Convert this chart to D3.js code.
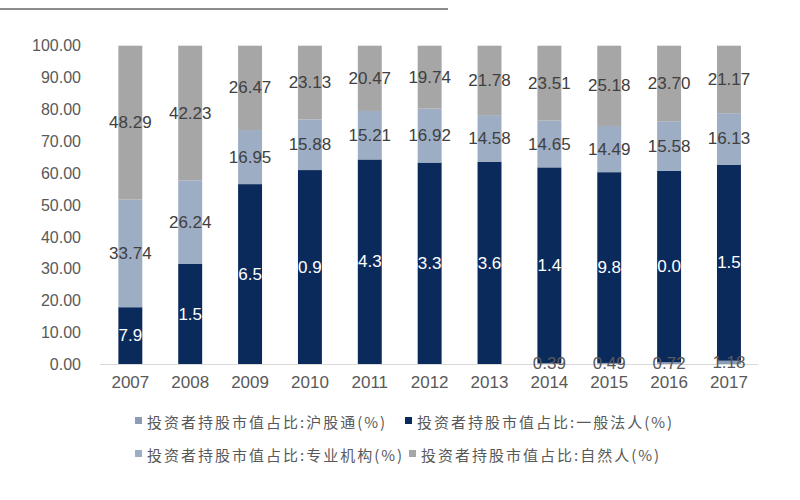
<!DOCTYPE html>
<html><head><meta charset="utf-8">
<script src="https://cdn.jsdelivr.net/npm/d3@7"></script>
<style>body{margin:0;background:#fff}svg{display:block}</style>
</head><body>
<svg id="c" width="800" height="500"></svg>
<script>
const years = ["2007","2008","2009","2010","2011","2012","2013","2014","2015","2016","2017"];
const hgt = [0,0,0,0,0,0,0,0.39,0.49,0.72,1.18];            // 沪股通
const legal = [17.97,31.53,56.58,60.99,64.32,63.34,63.64,61.45,59.84,60.00,61.52]; // 一般法人
const inst = [33.74,26.24,16.95,15.88,15.21,16.92,14.58,14.65,14.49,15.58,16.13];   // 专业机构
const natural = [48.29,42.23,26.47,23.13,20.47,19.74,21.78,23.51,25.18,23.70,21.17]; // 自然人
const seriesNames = ["投资者持股市值占比:沪股通(%)","投资者持股市值占比:一般法人(%)","投资者持股市值占比:专业机构(%)","投资者持股市值占比:自然人(%)"];
const yTicks = [0,10,20,30,40,50,60,70,80,90,100];

const colors = ["#8a9cb6","#0b2a5c","#9dadc4","#a6a6a6"];
const labelColors = ["#595959","#ffffff","#404040","#404040"];

const keys = ["hgt","legal","inst","natural"];
const rows = years.map((y,i)=>({year:y,hgt:hgt[i],legal:legal[i],inst:inst[i],natural:natural[i]}));
const stacked = d3.stack().keys(keys)(rows);

const svg = d3.select("#c");
const x = d3.scaleBand().domain(years).range([100.4,758.9]).paddingInner(0.6).paddingOuter(0.3);
const y = d3.scaleLinear().domain([0,100]).range([364.5,45.7]);

// top rule
svg.append("line").attr("x1",0).attr("x2",448).attr("y1",9).attr("y2",9)
  .attr("stroke","#8c8c8c").attr("stroke-width",2);

// bars
const g = svg.append("g");
stacked.forEach((s,si)=>{
  g.append("g").selectAll("rect").data(s).join("rect")
    .attr("x",d=>x(d.data.year)).attr("width",x.bandwidth())
    .attr("y",d=>y(d[1])).attr("height",d=>Math.max(0,y(d[0])-y(d[1])))
    .attr("fill",colors[si]);
});

// axis line
svg.append("line").attr("x1",100).attr("x2",758).attr("y1",364.5).attr("y2",364.5)
  .attr("stroke","#d9d9d9").attr("stroke-width",1.2);

// y axis
const yAxis = svg.append("g").attr("transform","translate(100,0)")
  .call(d3.axisLeft(y).tickValues(yTicks).tickFormat(d3.format(".2f")).tickSize(0).tickPadding(19));
yAxis.select(".domain").remove();
yAxis.selectAll("text").attr("font-family","Liberation Sans, Arial, sans-serif").attr("font-size",16).attr("fill","#595959");

// x axis
const xAxis = svg.append("g").attr("transform","translate(0,364.5)")
  .call(d3.axisBottom(x).tickSize(0).tickPadding(11));
xAxis.select(".domain").remove();
xAxis.selectAll("text").attr("font-family","Liberation Sans, Arial, sans-serif").attr("font-size",17).attr("fill","#595959");

// labels
stacked.forEach((s,si)=>{
  svg.append("g").selectAll("text").data(s.filter(d=>d.data[keys[si]]>0)).join("text")
    .attr("x",d=>x(d.data.year)+x.bandwidth()/2)
    .attr("y",d=>(y(d[0])+y(d[1]))/2)
    .attr("text-anchor","middle").attr("dominant-baseline","central")
    .attr("font-family","Liberation Sans, Arial, sans-serif").attr("font-size",17)
    .attr("fill",labelColors[si])
    .text(d=>d3.format(".2f")(d.data[keys[si]]));
});

// legend
const legendPos = [[135,421],[405,421],[135,454],[409,454]];
const lg = svg.append("g");
seriesNames.forEach((n,i)=>{
  const [lx,ly] = legendPos[i];
  lg.append("rect").attr("x",lx).attr("y",ly-4).attr("width",7).attr("height",7).attr("fill",colors[i]);
  lg.append("text").attr("x",lx+12).attr("y",ly).attr("dominant-baseline","central")
    .attr("font-family","Noto Sans CJK SC, sans-serif").attr("font-size",15)
    .attr("letter-spacing",2).attr("fill","#595959").text(n);
});
</script>
</body></html>
